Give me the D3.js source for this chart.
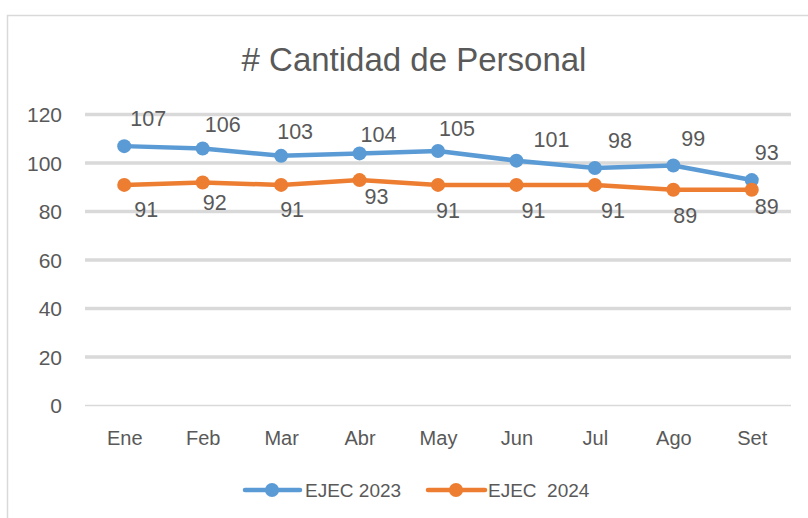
<!DOCTYPE html>
<html><head><meta charset="utf-8">
<script src="https://cdn.jsdelivr.net/npm/d3@7"></script>
<style>body{margin:0;background:#fff}svg{display:block}text{font-family:"Liberation Sans",Arial,sans-serif;fill:#595959}</style>
</head><body><svg id="c" width="808" height="518"></svg>
<script>
const categories = ["Ene","Feb","Mar","Abr","May","Jun","Jul","Ago","Set"];
const ejec2023 = [107,106,103,104,105,101,98,99,93];
const ejec2024 = [91,92,91,93,91,91,91,89,89];
const yTicks = [0,20,40,60,80,100,120];
const seriesNames = ["EJEC 2023","EJEC  2024"];
// label nudges (layout only)
const lab2023 = [[24,-28],[20,-24],[14,-24],[19,-19],[19,-23],[35,-21],[25,-27],[20,-27],[15,-28]];
const lab2024 = [[22,25],[12,20],[11,25],[17,16],[10,26],[17,26],[18,26],[12,26],[15,17]];

const svg = d3.select("#c");
const colors = ["#5B9BD5","#ED7D31"];
svg.append("rect").attr("x",7.5).attr("y",15.5).attr("width",820).attr("height",520)
  .attr("fill","none").attr("stroke","#d9d9d9").attr("stroke-width",1.5);

svg.append("text").attr("x",414).attr("y",71).attr("text-anchor","middle")
  .style("font-size","33px").text("# Cantidad de Personal");

const x = d3.scalePoint().domain(categories).range([85,791]).padding(0.5);
const y = d3.scaleLinear().domain([0,120]).range([405.6,114.6]);

const g = svg.append("g");
g.selectAll("line.grid").data(yTicks).join("line")
  .attr("x1",85).attr("x2",791).attr("y1",d=>y(d)).attr("y2",d=>y(d))
  .attr("stroke","#d9d9d9").attr("stroke-width",d=>d===0?1.5:3.5);

const yAxis = d3.axisLeft(y).tickValues(yTicks).tickSize(0).tickPadding(0);
const ya = svg.append("g").attr("transform","translate(62,0)").call(yAxis);
ya.select(".domain").remove();
ya.selectAll("text").style("font-size","21px").style("font-family",null).attr("fill","#595959").attr("dy","0.35em");

const xAxis = d3.axisBottom(x).tickSize(0).tickPadding(0);
const xa = svg.append("g").attr("transform","translate(0,430)").call(xAxis);
xa.select(".domain").remove();
xa.selectAll("text").style("font-size","20px").style("font-family",null).attr("fill","#595959").attr("dy","0.75em");

const line = d3.line().x((d,i)=>x(categories[i])).y(d=>y(d));
[ejec2023,ejec2024].forEach((s,k)=>{
  svg.append("path").datum(s).attr("d",line).attr("fill","none")
    .attr("stroke",colors[k]).attr("stroke-width",4.5).attr("stroke-linejoin","round").attr("stroke-linecap","round");
  svg.selectAll(null).data(s).join("circle")
    .attr("cx",(d,i)=>x(categories[i])).attr("cy",d=>y(d)).attr("r",7).attr("fill",colors[k]);
  const off = k===0?lab2023:lab2024;
  svg.selectAll(null).data(s).join("text")
    .attr("x",(d,i)=>x(categories[i])+off[i][0]).attr("y",(d,i)=>y(d)+off[i][1])
    .attr("text-anchor","middle").attr("dy","0.35em").style("font-size","21.5px").text(d=>d);
});

// legend
const leg = [{x1:245,x2:300,cx:272,tx:305},{x1:428,x2:485,cx:456,tx:488}];
leg.forEach((l,k)=>{
  svg.append("line").attr("x1",l.x1).attr("x2",l.x2).attr("y1",490).attr("y2",490)
    .attr("stroke",colors[k]).attr("stroke-width",4.5).attr("stroke-linecap","round");
  svg.append("circle").attr("cx",l.cx).attr("cy",490).attr("r",7).attr("fill",colors[k]);
  svg.append("text").attr("x",l.tx).attr("y",490).attr("dy","0.35em").style("font-size","19px")
    .style("white-space","pre").text(seriesNames[k]);
});
</script></body></html>
